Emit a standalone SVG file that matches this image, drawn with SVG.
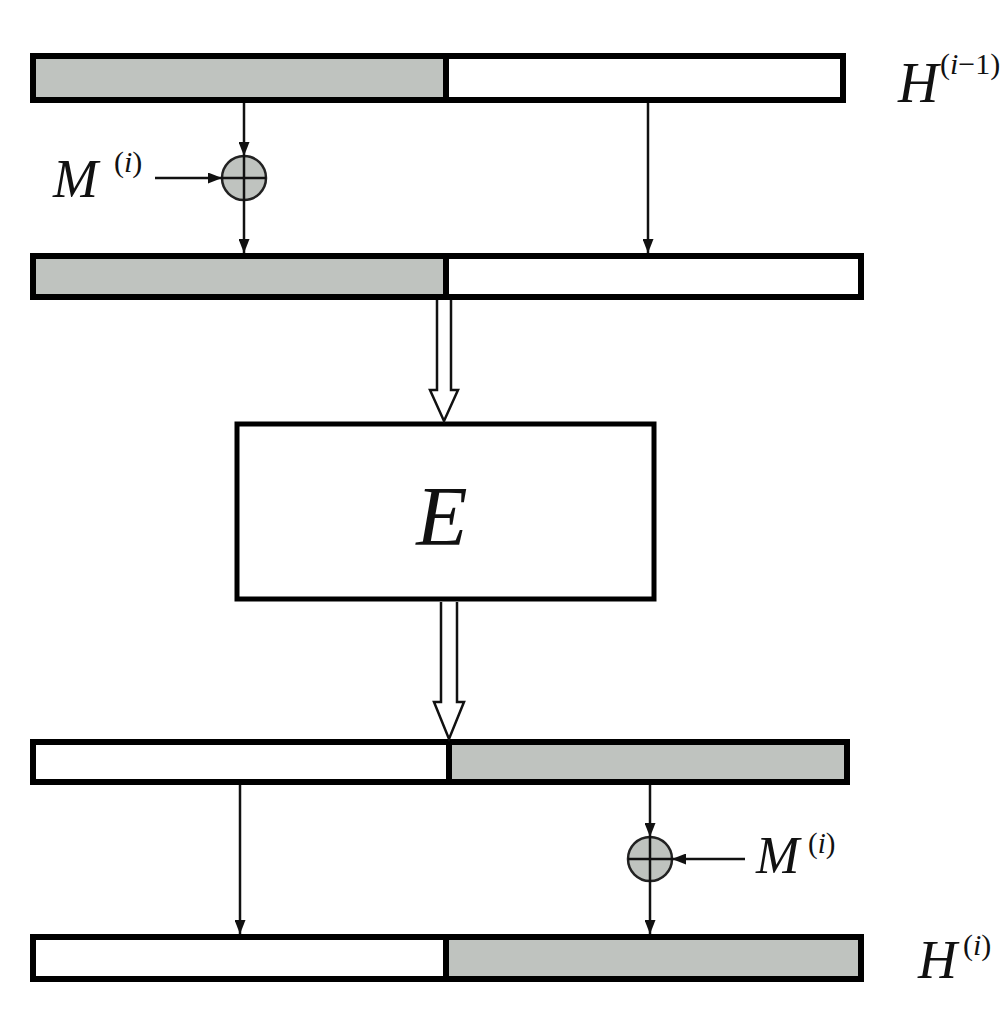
<svg xmlns="http://www.w3.org/2000/svg" width="1000" height="1010" viewBox="0 0 1000 1010">
<style>
.bar{stroke:#000;stroke-width:6}
.g{fill:#bfc3bf}
.w{fill:#fff}
.ln{stroke:#111;stroke-width:2.5;fill:none}
.hol{fill:#fff;stroke:#111;stroke-width:2.5}
.xor{fill:#bfc3bf;stroke:#222;stroke-width:2.5}
.lbl{font-family:"Liberation Serif",serif;font-style:italic;fill:#111}
.sup{font-family:"Liberation Serif",serif;fill:#111}
</style>
<defs>
<marker id="ah" markerWidth="14" markerHeight="11" refX="14" refY="5.5" orient="auto" markerUnits="userSpaceOnUse" viewBox="0 0 14 11">
<path d="M0,0 L14,5.5 L0,11 z" fill="#111"/>
</marker>
</defs>
<rect width="1000" height="1010" fill="#fff"/>
<g id="bar1">
<rect class="bar g" x="33" y="56" width="413" height="44"/>
<rect class="bar w" x="446" y="56" width="397" height="44"/>
</g>
<g id="label-H-prev"><text class="lbl" x="898" y="102" font-size="56">H</text><text class="sup" x="940" y="74" font-size="30">(<tspan font-style="italic">i</tspan>−1)</text></g>
<g id="bar2">
<rect class="bar g" x="33" y="256" width="413" height="41"/>
<rect class="bar w" x="446" y="256" width="415" height="41"/>
</g>
<g id="xor1"><circle class="xor" cx="244" cy="178" r="22"/><line class="ln" x1="222" y1="178" x2="266" y2="178"/><line class="ln" x1="244" y1="156" x2="244" y2="200"/></g>
<g id="label-M1"><text class="lbl" x="53" y="197" font-size="54">M</text><text class="sup" x="114" y="172" font-size="30">(<tspan font-style="italic">i</tspan>)</text></g>
<g id="E">
<rect x="237" y="424" width="417" height="175" fill="#fff" stroke="#000" stroke-width="5"/>
<text class="lbl" x="442" y="545" font-size="84" text-anchor="middle">E</text>
</g>
<g id="bar3">
<rect class="bar w" x="33" y="742" width="416" height="40"/>
<rect class="bar g" x="449" y="742" width="398" height="40"/>
</g>
<g id="xor2"><circle class="xor" cx="650" cy="859" r="22"/><line class="ln" x1="628" y1="859" x2="672" y2="859"/><line class="ln" x1="650" y1="837" x2="650" y2="881"/></g>
<g id="label-M2"><text class="lbl" x="756" y="873" font-size="52">M</text><text class="sup" x="808" y="853" font-size="29">(<tspan font-style="italic">i</tspan>)</text></g>
<g id="bar4">
<rect class="bar w" x="33" y="937" width="413" height="42"/>
<rect class="bar g" x="446" y="937" width="415" height="42"/>
</g>
<g id="label-H"><text class="lbl" x="918" y="978" font-size="54">H</text><text class="sup" x="963" y="955" font-size="30">(<tspan font-style="italic">i</tspan>)</text></g>
<g id="connectors">
<line class="ln" x1="244" y1="103" x2="244" y2="156" marker-end="url(#ah)"/>
<line class="ln" x1="155" y1="178" x2="222" y2="178" marker-end="url(#ah)"/>
<line class="ln" x1="244" y1="200" x2="244" y2="253" marker-end="url(#ah)"/>
<line class="ln" x1="648" y1="103" x2="648" y2="253" marker-end="url(#ah)"/>
<path class="hol" d="M437,300 L437,390 L430,390 L444,421 L458,390 L451,390 L451,300"/>
<path class="hol" d="M441,602 L441,702 L434,702 L449,739 L464,702 L457,702 L457,602"/>
<line class="ln" x1="240" y1="785" x2="240" y2="934" marker-end="url(#ah)"/>
<line class="ln" x1="650" y1="785" x2="650" y2="837" marker-end="url(#ah)"/>
<line class="ln" x1="745" y1="859" x2="672" y2="859" marker-end="url(#ah)"/>
<line class="ln" x1="650" y1="881" x2="650" y2="934" marker-end="url(#ah)"/>
</g>
</svg>
